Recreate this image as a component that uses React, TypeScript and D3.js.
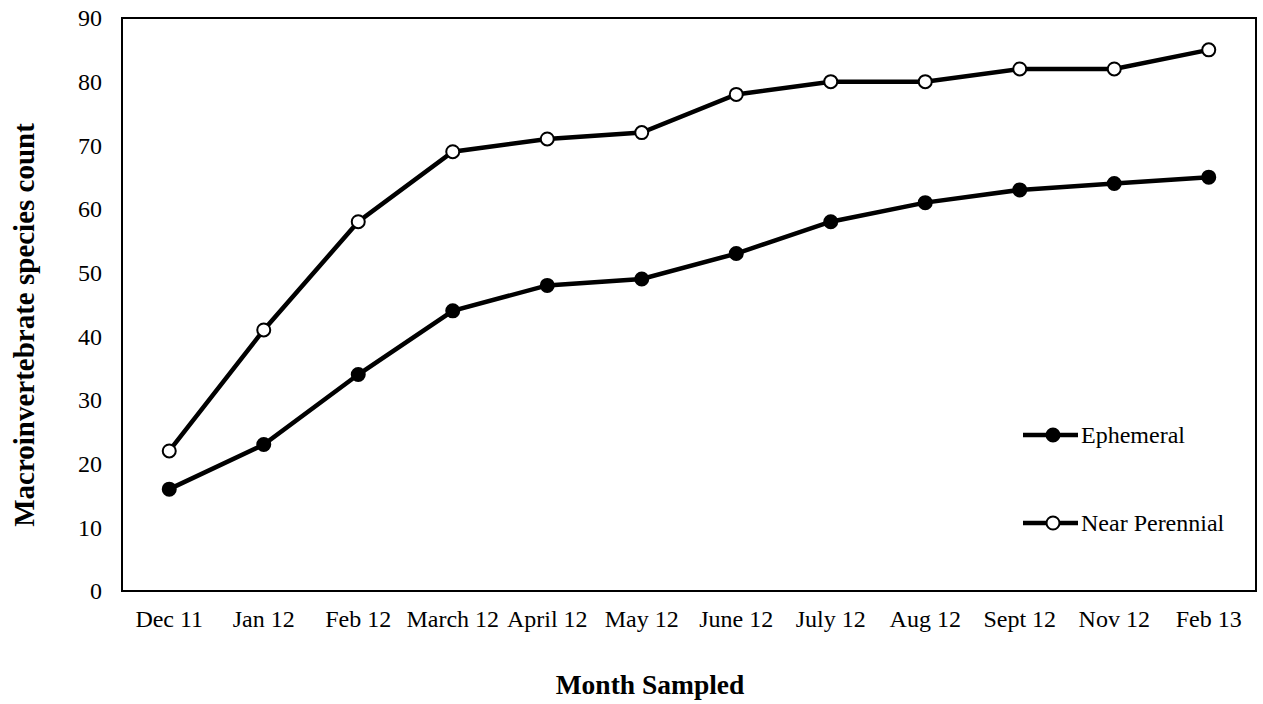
import React from "react";
import * as d3 from "d3";

const months = ["Dec 11", "Jan 12", "Feb 12", "March 12", "April 12", "May 12", "June 12", "July 12", "Aug 12", "Sept 12", "Nov 12", "Feb 13"];
const ephemeral = [16, 23, 34, 44, 48, 49, 53, 58, 61, 63, 64, 65];
const nearPerennial = [22, 41, 58, 69, 71, 72, 78, 80, 80, 82, 82, 85];
const yTicks = [0, 10, 20, 30, 40, 50, 60, 70, 80, 90];

export default function App() {
  const W = 1263, H = 704;
  const left = 122, right = 1256, top = 18, bottom = 591;
  const x = d3.scaleBand<string>().domain(months).range([left, right]);
  const y = d3.scaleLinear().domain([0, 90]).range([bottom, top]);
  const cx = (m: string) => (x(m) as number) + x.bandwidth() / 2;
  const line = d3.line<number>().x((_, i) => cx(months[i])).y((d) => y(d));
  const font = "'Liberation Serif', 'Times New Roman', serif";
  const series = [
    { name: "Ephemeral", data: ephemeral, fill: "#000", ly: 435 },
    { name: "Near Perennial", data: nearPerennial, fill: "#fff", ly: 523 },
  ];
  return (
    <svg width={W} height={H} style={{ position: "absolute", left: 0, top: 0, background: "#fff" }} fontFamily={font}>
      <rect x={left} y={top} width={right - left} height={bottom - top} fill="none" stroke="#000" strokeWidth={2} />
      {yTicks.map((t) => (
        <text key={t} x={102} y={y(t)} dy="0.35em" textAnchor="end" fontSize={24}>{t}</text>
      ))}
      {months.map((m) => (
        <text key={m} x={cx(m)} y={627} textAnchor="middle" fontSize={24}>{m}</text>
      ))}
      <text x={(left + right) / 2 - 39} y={694} textAnchor="middle" fontSize={27.5} fontWeight="bold">Month Sampled</text>
      <text transform={`translate(34,325) rotate(-90)`} textAnchor="middle" fontSize={29} fontWeight="bold">Macroinvertebrate species count</text>
      {series.map((s) => (
        <g key={s.name}>
          <path d={line(s.data) || ""} fill="none" stroke="#000" strokeWidth={4.5} />
          {s.data.map((v, i) => (
            <circle key={i} cx={cx(months[i])} cy={y(v)} r={6.5} fill={s.fill} stroke="#000" strokeWidth={2} />
          ))}
          <line x1={1023} x2={1078} y1={s.ly} y2={s.ly} stroke="#000" strokeWidth={4.5} />
          <circle cx={1053} cy={s.ly} r={6.5} fill={s.fill} stroke="#000" strokeWidth={2} />
          <text x={1081} y={s.ly} dy="0.35em" fontSize={24}>{s.name}</text>
        </g>
      ))}
    </svg>
  );
}
